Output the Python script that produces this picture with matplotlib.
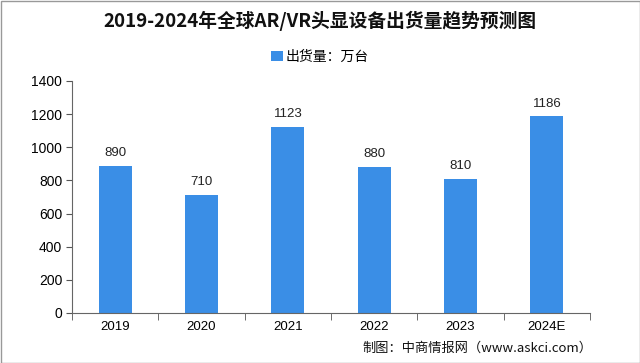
import matplotlib
matplotlib.use("Agg")
import matplotlib.pyplot as plt
from matplotlib.patches import Rectangle

plt.rcParams['font.family'] = ['Noto Sans CJK SC', 'DejaVu Sans']

categories = ["2019", "2020", "2021", "2022", "2023", "2024E"]
values = [890, 710, 1123, 880, 810, 1186]
title = "2019-2024年全球AR/VR头显设备出货量趋势预测图"
legend_label = "出货量：万台"
source = "制图：中商情报网（www.askci.com）"

W, H = 640, 363
fig = plt.figure(figsize=(W/100, H/100), dpi=100)
ax = fig.add_axes([72/W, 1-313/H, (590-72)/W, (313-81)/H])

color = "#3a8ee6"
x = list(range(len(categories)))
bars = ax.bar(x, values, width=0.38, color=color, label=legend_label, zorder=2)
for xi, v in zip(x, values):
    ax.text(xi, v + 42, str(v), ha='center', va='bottom', fontsize=9.5, color='#222222',
            family=['Liberation Sans', 'DejaVu Sans'])

ax.set_xlim(-0.5, len(categories) - 0.5)
ax.set_ylim(0, 1400)
ax.set_yticks(range(0, 1401, 200))
ax.set_xticks(x)
ax.set_xticklabels(categories, fontsize=9.5, family=['Liberation Sans', 'DejaVu Sans'])
for lab in ax.get_yticklabels():
    lab.set_family(['Liberation Sans', 'DejaVu Sans'])
ax.tick_params(axis='y', labelsize=10, length=4, color='#555555', pad=3)
ax.tick_params(axis='x', length=0, pad=6)
# category boundary ticks
ax.set_xticks([i - 0.5 for i in range(len(categories) + 1)], minor=True)
ax.tick_params(axis='x', which='minor', length=5, color='#555555', direction='out')
for s in ['top', 'right']:
    ax.spines[s].set_visible(False)
ax.spines['left'].set_color('#666666')
ax.spines['bottom'].set_color('#666666')

fig.text(0.5, 1 - 21/H, title, ha='center', va='center', fontsize=13.5, fontweight='bold', color='#111111')
ax.legend(loc='center', bbox_to_anchor=(0.5, 1 - 57/H), bbox_transform=fig.transFigure,
          frameon=False, fontsize=10, handlelength=0.8, handleheight=0.8, handletextpad=0.2)
fig.text(592/W, 1 - 348/H, source, ha='right', va='center', fontsize=9.5, color='#111111')

fig.add_artist(Rectangle((0.5/W, 0.5/H), 1 - 1/W, 1 - 1/H, transform=fig.transFigure,
                         fill=False, edgecolor='#999999', linewidth=1))

fig.savefig("out.png", dpi=100)
